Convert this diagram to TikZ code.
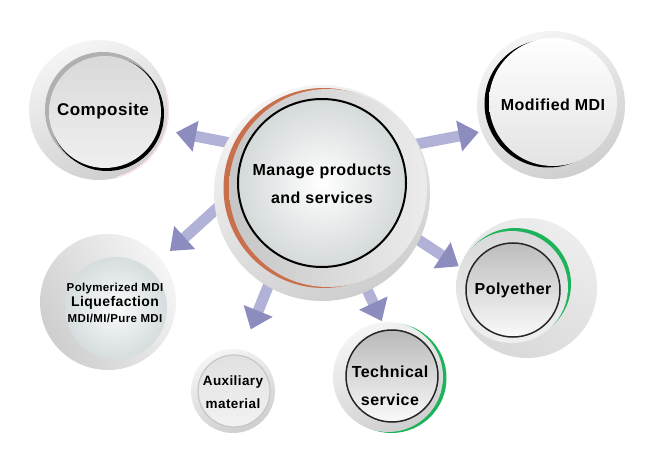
\documentclass[tikz,border=0pt]{standalone}
\usepackage{fontspec}
\setmainfont{Liberation Sans}[LetterSpace=3]
\usetikzlibrary{arrows.meta,backgrounds}

\definecolor{arrowshaft}{HTML}{B2B2D8}
\definecolor{arrowtip}{HTML}{8C8CBE}
\definecolor{rust}{HTML}{C96F4C}
\definecolor{leaf}{HTML}{1DB35A}

\tikzset{
  disc/.style={circle, inner sep=0pt, minimum size=#1, shading=axis,
    top color=gray!8, bottom color=gray!38, shading angle=25},
  face/.style={circle, inner sep=0pt, minimum size=#1, shading=axis,
    top color=gray!6, bottom color=gray!22},
  txt/.style={align=center, font=\bfseries\fontsize{16}{28}\selectfont},
  flow/.style={line width=11pt, arrowshaft, shorten <=-8pt,
    -{Triangle[width=30pt, length=20pt, color=arrowtip]}},
}

\begin{document}
\begin{tikzpicture}[x=1pt, y=1pt]
\useasboundingbox (0,0) rectangle (666,458);

% Centre
\node[disc=216] (mgp) at (322,265) {};
\fill[rust] (323.5,270) circle (100);
\shade[left color=gray!45, right color=gray!15] (328,270) circle (99);
\node[face=168, draw=black, line width=2pt, shading=radial,
  inner color=white, outer color={rgb,255:red,212;green,217;blue,217}] (mgp-in) at (322,275) {};
\node[txt] (mgp-txt) at (322,274) {Manage products\\and services};

% Composite
\node[disc=140] (comp) at (99,348) {};
\draw[pink!45, line width=1.2pt] (comp.center) ++(-75:69.4) arc[start angle=-75, end angle=15, radius=69.4];
\fill[gray!62] (103,348) circle (58);
\fill[black] (107,344) circle (57);
\node[face=112, top color=gray!30, bottom color=gray!12] (comp-in) at (105,346) {};
\node[txt, font=\bfseries\fontsize{17}{20}\selectfont] (comp-txt) at (103,347) {Composite};

% Modified MDI
\node[disc=148] (mdi) at (551,353) {};
\fill[black] (548.5,354.5) circle (64);
\node[face=128, top color=white, bottom color=gray!22] (mdi-in) at (553,356) {};
\node[txt, font=\bfseries\fontsize{16}{20}\selectfont] (mdi-txt) at (553,353) {Modified MDI};

% Polymerized MDI
\node[disc=136, shading angle=-60] (poly) at (108,156) {};
\node[face=102, shading=radial, inner color={rgb,255:red,248;green,250;blue,250},
  outer color={rgb,255:red,214;green,221;blue,223}] (poly-in) at (116,150) {};
\node[txt, font=\bfseries\fontsize{11.5}{15}\selectfont] (poly-txt) at (115,155)
  {Polymerized MDI\\{\fontsize{14}{15}\selectfont Liquefaction}\\[1pt]MDI/MI/Pure MDI};

% Polyether
\fill[leaf] (515,174) circle (56);
\node[disc=112, top color=gray!30, bottom color=gray!12, shading angle=0] (pe-ring) at (512,171) {};
\node[face=94, draw=gray!30!black, line width=1.5pt, top color=gray!52, bottom color=gray!4] (pe-in) at (513,168) {};
\node[txt, font=\bfseries\fontsize{16}{20}\selectfont] (pe-txt) at (513,168) {Polyether};

% Technical service
\fill[leaf] (391.5,80) circle (55);
\node[disc=110] (ts) at (388,81) {};
\node[face=92, draw=gray!30!black, line width=1.5pt, top color=gray!55, bottom color=gray!4] (ts-in) at (392,82) {};
\node[txt, font=\bfseries\fontsize{16}{28}\selectfont] (ts-txt) at (390,72) {Technical\\service};

% Auxiliary material
\node[disc=84] (aux) at (233,67) {};
\node[face=72, draw=gray!45, line width=1.2pt, top color=gray!24, bottom color=gray!10] (aux-in) at (234,67) {};
\node[txt, font=\bfseries\fontsize{13.5}{23}\selectfont] (aux-txt) at (233,66) {Auxiliary\\material};

% Arrows behind the discs
\begin{scope}[on background layer]
\shade[top color=gray!14, bottom color=gray!30, shading angle=-30] (527,170) circle (70);
\draw[flow, shorten >=10pt] (mgp.152) -- (comp.-17);
\draw[flow, shorten >=3pt] (mgp.27) -- (mdi.201);
\draw[flow, shorten >=12pt] (mgp.189) -- (poly.39);
\draw[flow, shorten >=1pt] (mgp.-26) -- (pe-ring.159);
\draw[flow, shorten >=22pt] (mgp.240) -- (aux.77);
\draw[flow, shorten >=1pt] (mgp.-65) -- (ts.96);
\end{scope}

\end{tikzpicture}
\end{document}
